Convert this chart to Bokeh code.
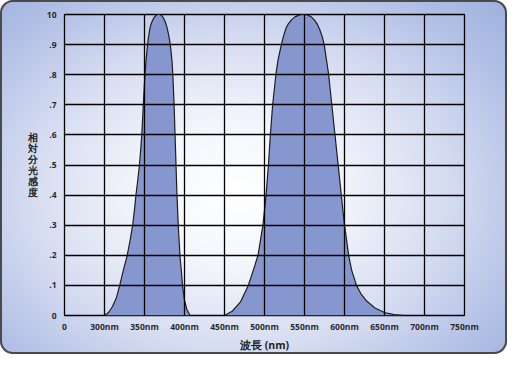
from bokeh.plotting import figure
from bokeh.models import FixedTicker, Range1d
from bokeh.embed import file_html
from bokeh.resources import INLINE

# ---- data ----
x_ticks = [250, 300, 350, 400, 450, 500, 550, 600, 650, 700, 750]
x_tick_labels = ["0", "300nm", "350nm", "400nm", "450nm", "500nm", "550nm",
                 "600nm", "650nm", "700nm", "750nm"]
y_ticks = [0, 0.1, 0.2, 0.3, 0.4, 0.5, 0.6, 0.7, 0.8, 0.9, 1.0]
y_tick_labels = ["0", ".1", ".2", ".3", ".4", ".5", ".6", ".7", ".8", ".9", "10"]

uv_wavelength = [300, 305, 310, 315, 319, 324, 328.4, 332, 335.2, 337.4, 339.3,
                 341.6, 343.7, 345.2, 346.6, 347.6, 348.5, 349.5, 350.6, 352,
                 353.9, 355, 356.5, 358, 360, 362, 364, 366.5, 369, 371.5,
                 374, 376, 378, 380, 382, 383.3, 384.5, 385.4,
                 387, 388.2, 389.4, 390.6, 392.2, 394.3, 396, 397.5, 400, 403, 407]
uv_response = [0, 0.01, 0.03, 0.06, 0.1, 0.155, 0.2, 0.25, 0.3, 0.35, 0.4,
               0.45, 0.5, 0.55, 0.6, 0.65, 0.7, 0.75, 0.8, 0.85,
               0.9, 0.925, 0.95, 0.967, 0.98, 0.99, 0.996, 1.0, 1.0, 0.996,
               0.987, 0.975, 0.958, 0.935, 0.905, 0.875, 0.84, 0.8,
               0.7, 0.6, 0.5, 0.4, 0.3, 0.2, 0.15, 0.1, 0.05, 0.02, 0]

vis_wavelength = [450, 460, 470, 479.7, 486, 491.9, 498, 502, 504.9, 507.3,
                  510.2, 514.2, 517, 521.1, 524, 527, 530, 534, 538, 543, 549,
                  554, 558, 562, 566, 569, 572,
                  574.6, 580.2, 584.1, 588.1, 592.1, 596, 600, 605.2, 609, 615,
                  621, 627, 638, 650, 662, 675]
vis_response = [0, 0.015, 0.045, 0.1, 0.15, 0.2, 0.3, 0.4, 0.5, 0.6,
                0.7, 0.8, 0.85, 0.9, 0.93, 0.955, 0.97, 0.983, 0.992, 0.998, 1.0,
                0.998, 0.993, 0.983, 0.968, 0.95, 0.928,
                0.9, 0.8, 0.7, 0.6, 0.5, 0.4, 0.3, 0.2, 0.15, 0.1,
                0.07, 0.05, 0.025, 0.01, 0.003, 0]

FONT = "Open Sans"

p = figure(width=507, height=354, output_backend="svg", toolbar_location=None,
           x_range=Range1d(250, 750), y_range=Range1d(0, 1),
           min_border_left=64, min_border_right=43, min_border_top=14,
           min_border_bottom=39)

p.styles = {
    "background": "radial-gradient(ellipse 75% 80% at 47% 55%, #ffffff 0%, "
                  "#f4f6fc 25%, #d5dcf1 55%, #b2c0e6 80%, #9aafdd 100%)",
    "border-radius": "13px",
    "box-shadow": "inset 0 0 0 2px #4a4a4a",
}
p.border_fill_alpha = 0
p.background_fill_alpha = 0
p.outline_line_color = "black"
p.outline_line_width = 1.3

for vals, resp in ((uv_wavelength, uv_response), (vis_wavelength, vis_response)):
    p.varea(x=vals, y1=0, y2=resp, fill_color="#8697d0")
    p.line(vals, resp, line_color="#1e1e1e", line_width=1.2)

# grid
p.xgrid.ticker = FixedTicker(ticks=x_ticks)
p.ygrid.ticker = FixedTicker(ticks=y_ticks)
for g in (p.xgrid, p.ygrid):
    g.grid_line_color = "black"
    g.grid_line_width = 1.3
    g.level = "overlay"

# axes
xa = p.xaxis[0]
xa.ticker = FixedTicker(ticks=x_ticks)
xa.major_label_overrides = {t: l for t, l in zip(x_ticks, x_tick_labels)}
ya = p.yaxis[0]
ya.ticker = FixedTicker(ticks=y_ticks)
ya.major_label_overrides = {t: l for t, l in zip(y_ticks, y_tick_labels)}

for ax in (xa, ya):
    ax.axis_line_color = None
    ax.major_tick_line_color = None
    ax.minor_tick_line_color = None
    ax.major_tick_out = 0
    ax.major_tick_in = 0
    ax.major_label_text_font = FONT
    ax.major_label_text_font_size = "8.5px"
    ax.major_label_text_font_style = "bold"
    ax.major_label_text_color = "#2a2a2a"
    ax.axis_label_text_font = FONT
    ax.axis_label_text_font_style = "bold"
    ax.axis_label_text_color = "#222222"

xa.major_label_standoff = 5
xa.axis_label = "波長 (nm)"
xa.axis_label_text_font_size = "10.5px"
xa.axis_label_standoff = 3

ya.major_label_standoff = 8
ya.axis_label = "相\n対\n分\n光\n感\n度"
ya.axis_label_orientation = "horizontal"
ya.axis_label_text_font_size = "9.5px"
ya.axis_label_text_line_height = 0.85
ya.axis_label_standoff = 6

open("out.html", "w").write(file_html(p, INLINE))
